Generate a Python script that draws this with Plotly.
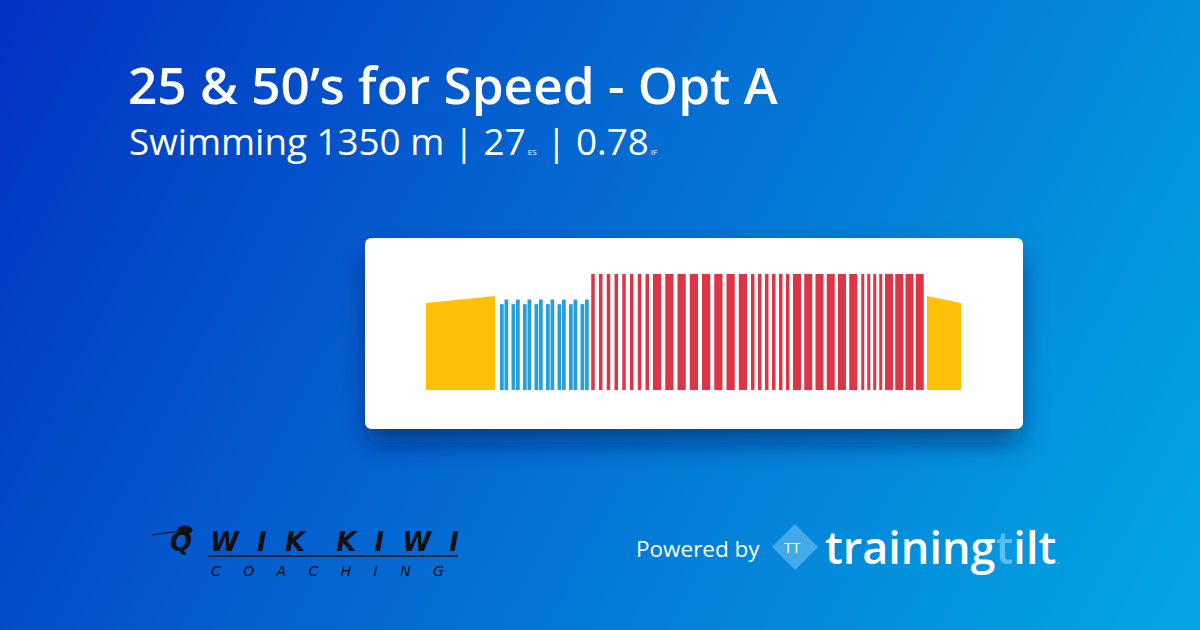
import base64
import plotly.graph_objects as go

# ---------------- data (durations in seconds, intensity relative to threshold) ----------------
warmup_seconds = 276
warmup_intensity = [0.75, 0.81]          # ramp start, ramp end
rest_after_warmup = 20

drill_seconds = [15, 15, 15, 15, 15, 15, 15, 15, 15, 15, 15, 15, 15, 15, 15, 15]
drill_rest = [3, 13, 3, 13, 3, 13, 3, 13, 3, 13, 3, 13, 3, 13, 3, 10]
drill_intensity = [0.74, 0.78, 0.74, 0.78, 0.74, 0.78, 0.74, 0.78,
                   0.74, 0.78, 0.74, 0.78, 0.74, 0.78, 0.74, 0.78]

speed_seconds = [14, 14, 14, 14, 14, 14, 14, 14,
                 33, 33, 33, 33, 33, 33, 33, 33,
                 14, 14, 14, 14, 14, 14,
                 32, 32, 32, 32, 32, 32,
                 12, 12, 12, 12,
                 32, 32, 32, 32]
speed_rest = [17, 17, 17, 17, 17, 17, 17, 16,
              16, 16, 16, 16, 16, 16, 16, 16,
              14, 14, 14, 14, 14, 14,
              13, 13, 13, 13, 13, 16,
              12, 12, 12, 11,
              9, 9, 9, 13]
speed_intensity = [1.0, 1.0, 1.0, 1.0, 1.0, 1.0, 1.0, 1.0,
                   1.0, 1.0, 1.0, 1.0, 1.0, 1.0, 1.0, 1.0,
                   1.0, 1.0, 1.0, 1.0, 1.0, 1.0,
                   1.0, 1.0, 1.0, 1.0, 1.0, 1.0,
                   1.0, 1.0, 1.0, 1.0,
                   1.0, 1.0, 1.0, 1.0]

cooldown_seconds = 136
cooldown_intensity = [0.81, 0.75]

title_text = "25 & 50\u2019s for Speed - Opt A"
sport, distance, es_value, if_value = "Swimming", "1350 m", "27", "0.78"

YELLOW, BLUE, RED = "#ffc107", "#27a0da", "#dc3545"

# ---------------- build timeline ----------------
t = 0
warm_x = [t, t + warmup_seconds]
t += warmup_seconds + rest_after_warmup

drill_centers = []
for d, r in zip(drill_seconds, drill_rest):
    drill_centers.append(t + d / 2)
    t += d + r

speed_centers = []
for d, r in zip(speed_seconds, speed_rest):
    speed_centers.append(t + d / 2)
    t += d + r

cool_x = [t, t + cooldown_seconds]
total = t + cooldown_seconds

# ---------------- figure geometry (pixels) ----------------
W, H = 1200, 630
PL, PR, PT, PB = 426, 961, 274, 390   # plot area


def X(px):
    return (px - PL) / (PR - PL)


def Y(py):
    return (PB - py) / (PB - PT)


fig = go.Figure()
fig.add_trace(go.Scatter(x=warm_x, y=warmup_intensity, mode="lines", fill="tozeroy",
                         line=dict(width=0, color=YELLOW), fillcolor=YELLOW, hoverinfo="skip"))
fig.add_trace(go.Scatter(x=cool_x, y=cooldown_intensity, mode="lines", fill="tozeroy",
                         line=dict(width=0, color=YELLOW), fillcolor=YELLOW, hoverinfo="skip"))
fig.add_trace(go.Bar(x=drill_centers, y=drill_intensity, width=drill_seconds,
                     marker=dict(color=BLUE, line=dict(width=0)), hoverinfo="skip"))
fig.add_trace(go.Bar(x=speed_centers, y=speed_intensity, width=speed_seconds,
                     marker=dict(color=RED, line=dict(width=0)), hoverinfo="skip"))

# background gradient + card shadow as an SVG image
svg = f'''<svg xmlns="http://www.w3.org/2000/svg" width="{W}" height="{H}" viewBox="0 0 {W} {H}">
<defs>
<linearGradient id="g" gradientUnits="userSpaceOnUse" x1="0" y1="0" x2="{W}" y2="{H}">
<stop offset="0" stop-color="#0232c2"/>
<stop offset="0.5" stop-color="#046fd3"/>
<stop offset="1" stop-color="#03a8e3"/>
</linearGradient>
<filter id="b" x="-20%" y="-50%" width="140%" height="200%"><feGaussianBlur stdDeviation="13"/></filter>
</defs>
<rect width="{W}" height="{H}" fill="url(#g)"/>
<rect x="368" y="252" width="652" height="190" rx="8" fill="#001a50" fill-opacity="0.55" filter="url(#b)"/>
</svg>'''
src = "data:image/svg+xml;base64," + base64.b64encode(svg.encode()).decode()


def rounded(x0, y0, x1, y1, r):
    return (f"M {X(x0 + r)},{Y(y0)} L {X(x1 - r)},{Y(y0)} Q {X(x1)},{Y(y0)} {X(x1)},{Y(y0 + r)} "
            f"L {X(x1)},{Y(y1 - r)} Q {X(x1)},{Y(y1)} {X(x1 - r)},{Y(y1)} "
            f"L {X(x0 + r)},{Y(y1)} Q {X(x0)},{Y(y1)} {X(x0)},{Y(y1 - r)} "
            f"L {X(x0)},{Y(y0 + r)} Q {X(x0)},{Y(y0)} {X(x0 + r)},{Y(y0)} Z")


shapes = [
    dict(type="path", xref="paper", yref="paper", path=rounded(365, 238, 1023, 429, 7),
         fillcolor="white", line=dict(width=0), layer="below"),
    # trainingtilt diamond
    dict(type="path", xref="paper", yref="paper",
         path=f"M {X(795)},{Y(524)} L {X(818)},{Y(547)} L {X(795)},{Y(570)} L {X(772)},{Y(547)} Z",
         fillcolor="rgba(120,200,245,0.55)", line=dict(width=0), layer="above"),
    # qwik kiwi: beak, head, underline
    dict(type="line", xref="paper", yref="paper", x0=X(152), y0=Y(535), x1=X(180), y1=Y(531),
         line=dict(color="#111111", width=1.2)),
    dict(type="circle", xref="paper", yref="paper", x0=X(178), y0=Y(526), x1=X(192), y1=Y(534),
         fillcolor="#111111", line=dict(color="#111111", width=1)),
    dict(type="line", xref="paper", yref="paper", x0=X(208), y0=Y(556), x1=X(458), y1=Y(556),
         line=dict(color="#111111", width=1.3)),
]

OPEN = "Open Sans"
TS, HS = "\u2009", "\u200a"
gap = TS * 3 + HS
ann = [
    dict(text=title_text, x=X(126), y=Y(84), font=dict(family=OPEN, size=51.3, color="white", weight=600)),
    dict(text=f"{sport} {distance} | {es_value}<span style='font-size:8px'> ES</span>"
              f" | {if_value}<span style='font-size:8px'> IF</span>",
         x=X(127), y=Y(141), font=dict(family=OPEN, size=36.8, color="white")),
    dict(text="Powered by", x=X(634), y=Y(548), font=dict(family=OPEN, size=22.5, color="white")),
    dict(text="TT", x=X(782), y=Y(547), font=dict(family=OPEN, size=15, color="white")),
    dict(text="training<span style='color:#5cbdf0'>t</span>ilt<span style='color:#5cbdf0;font-size:14px'>.</span>",
         x=X(823), y=Y(546), font=dict(family=OPEN, size=45, color="white", weight=600)),
    dict(text=gap.join("QWIK") + "\u2002" + gap + gap.join("KIWI"), x=X(168), y=Y(542),
         font=dict(family="DejaVu Sans", size=26, color="#111111", weight="bold", style="italic")),
    dict(text=("\u2003" + TS * 3).join("COACHING"), x=X(209), y=Y(571),
         font=dict(family="DejaVu Sans", size=14, color="#111111", style="italic")),
]
for a in ann:
    a.update(xref="paper", yref="paper", xanchor="left", yanchor="middle", showarrow=False)

fig.update_layout(
    width=W, height=H, autosize=False,
    margin=dict(l=PL, r=W - PR, t=PT, b=H - PB, pad=0),
    paper_bgcolor="#046fd3", plot_bgcolor="rgba(0,0,0,0)",
    barmode="overlay", showlegend=False,
    xaxis=dict(range=[0, total], visible=False, fixedrange=True),
    yaxis=dict(range=[0, 1.0], visible=False, fixedrange=True),
    images=[dict(source=src, xref="paper", yref="paper", x=X(0), y=Y(0), sizex=W / (PR - PL),
                 sizey=H / (PB - PT), xanchor="left", yanchor="top", sizing="stretch", layer="below")],
    shapes=shapes, annotations=ann,
)

fig.write_html("out.html", config={"displayModeBar": False},
               post_script="document.body.style.margin='0';document.body.style.overflow='hidden';")
